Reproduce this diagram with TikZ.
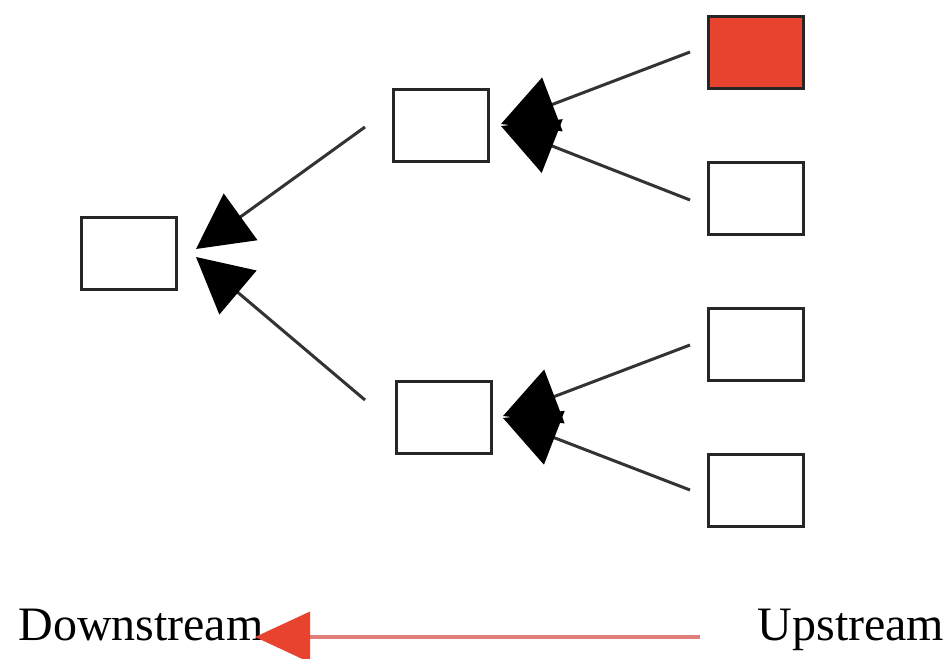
\documentclass[tikz,border=0pt]{standalone}
\usepackage{fontspec}
\setmainfont{Liberation Serif}
\usetikzlibrary{arrows.meta}
\definecolor{boxred}{HTML}{E8432E}
\definecolor{linepink}{HTML}{E07F7A}
\begin{document}
\begin{tikzpicture}[x=1pt,y=-1pt,
  cell/.style={draw=black!85,line width=3pt,minimum width=95pt,minimum height=72pt,inner sep=0pt},
  link/.style={draw=black!80,line width=3pt,-{Triangle[length=55pt,width=57pt,black]}},
  lbl/.style={font=\fontsize{48}{50}\selectfont,anchor=base,inner sep=0pt}]
\useasboundingbox (0,0) rectangle (952,658);
\fill[white] (0,0) rectangle (952,658);
% boxes
\node[cell] (L) at (128.5,253) {};
\node[cell] (MT) at (440.5,125.5) {};
\node[cell] (MB) at (444,417.5) {};
\node[cell,fill=boxred] (R1) at (755.5,52.5) {};
\node[cell] (R2) at (755.5,198) {};
\node[cell] (R3) at (755.5,344.5) {};
\node[cell] (R4) at (755.5,490.5) {};
% connector endpoints
\coordinate (Lt) at (196,249);
\coordinate (Lb) at (196,257);
\coordinate (MTs) at (365,127);
\coordinate (MBs) at (365,400);
\coordinate (MTt) at (501,124);
\coordinate (MTb) at (501,126);
\coordinate (MBt) at (503,416);
\coordinate (MBb) at (503,418);
\coordinate (R1s) at (690,52);
\coordinate (R2s) at (690,200);
\coordinate (R3s) at (690,345);
\coordinate (R4s) at (690,490);
\draw[link] (MTs) -- (Lt);
\draw[link] (MBs) -- (Lb);
\draw[link] (R1s) -- (MTt);
\draw[link] (R2s) -- (MTb);
\draw[link] (R3s) -- (MBt);
\draw[link] (R4s) -- (MBb);
% bottom
\node[lbl] (down) at (141,640) {Downstream};
\node[lbl] (up) at (851,640) {Upstream};
\coordinate (ra) at (700,637);
\coordinate (rb) at (255,637);
\draw[linepink,line width=4pt,-{Triangle[length=55pt,width=50pt,boxred]}] (ra) -- (rb);
\end{tikzpicture}
\end{document}
